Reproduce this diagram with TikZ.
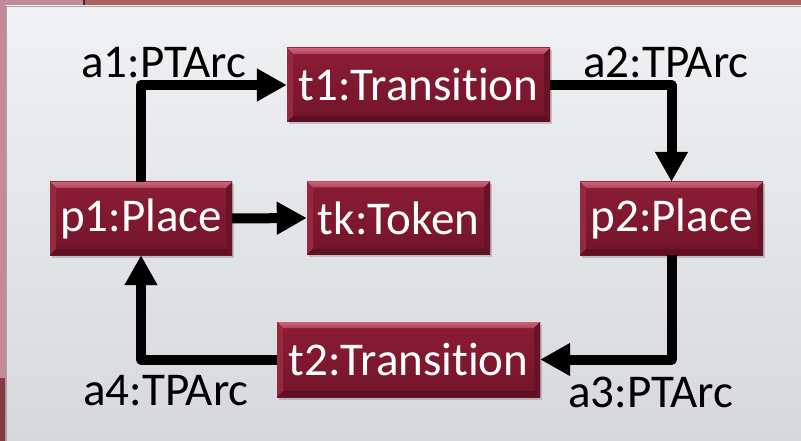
\documentclass[tikz,border=0pt]{standalone}
\usepackage{fontspec}
\setmainfont{Carlito}[RawFeature={-liga}]
\usetikzlibrary{arrows.meta,shadows}

\definecolor{stripTop}{HTML}{A7625F}
\definecolor{stripLeft}{HTML}{C38A99}
\definecolor{panelTop}{HTML}{F0F1F3}
\definecolor{panelBot}{HTML}{D6D8DC}
\definecolor{faceTop}{HTML}{8C1D35}
\definecolor{faceBot}{HTML}{72142A}
\definecolor{bevelTop}{HTML}{C24A64}
\definecolor{bevelLeft}{HTML}{962840}
\definecolor{bevelRight}{HTML}{6A1228}
\definecolor{bevelBot}{HTML}{5E1022}

\tikzset{
  x=1pt, y=-1pt,
  bigfont/.style={font=\fontsize{47}{52}\selectfont},
  classbox/.style={
    bigfont, text=white, inner sep=0pt, draw=none,
    drop shadow={shadow xshift=1.5pt, shadow yshift=-2.5pt, opacity=0.25, fill=black!70},
    path picture={
      \def\bv{6pt}
      \coordinate (nw) at (path picture bounding box.north west);
      \coordinate (ne) at (path picture bounding box.north east);
      \coordinate (sw) at (path picture bounding box.south west);
      \coordinate (se) at (path picture bounding box.south east);
      \shade[top color=faceTop, bottom color=faceBot] (nw) rectangle (se);
      \shade[top color=bevelTop!85!white, bottom color=bevelTop!90!black]
        (nw) -- (ne) -- ([xshift=-\bv,yshift=-\bv]ne) -- ([xshift=\bv,yshift=-\bv]nw) -- cycle;
      \fill[bevelLeft] (nw) -- ([xshift=\bv,yshift=-\bv]nw) -- ([xshift=\bv,yshift=\bv]sw) -- (sw) -- cycle;
      \fill[bevelRight] (ne) -- ([xshift=-\bv,yshift=-\bv]ne) -- ([xshift=-\bv,yshift=\bv]se) -- (se) -- cycle;
      \fill[bevelBot] (sw) -- ([xshift=\bv,yshift=\bv]sw) -- ([xshift=-\bv,yshift=\bv]se) -- (se) -- cycle;
    }
  },
  arclabel/.style={bigfont, text=black, inner sep=0pt, anchor=base west},
  conn/.style={line width=10pt, draw=black, line join=round,
    -{Triangle[length=30pt, width=31pt]}}
}

\begin{document}
\begin{tikzpicture}
  \useasboundingbox (0,0) rectangle (801,441);

  % slide frame and panel
  \fill[stripLeft] (0,0) rectangle (801,441);
  \fill[stripTop] (85,0) rectangle (801,6);
  \fill[black!60!stripTop] (83,0) rectangle (85,6);
  \fill[stripLeft!70!red!60!black] (0,378) rectangle (5,441);
  \shade[top color=panelTop, bottom color=panelBot] (6,6) rectangle (801,441);
  \draw[gray!70, line width=1pt] (6.5,441) -- (6.5,6.5) -- (801,6.5);

  % classes
  \node[classbox, minimum width=263pt, minimum height=74pt] (t1) at (418.5,85) {t1:Transition};
  \node[classbox, minimum width=182pt, minimum height=73pt] (p1) at (141,218.5) {p1:Place};
  \node[classbox, minimum width=183pt, minimum height=73pt] (tk) at (398.5,218) {tk:Token};
  \node[classbox, minimum width=183pt, minimum height=73pt] (p2) at (671.5,218.5) {p2:Place};
  \node[classbox, minimum width=263pt, minimum height=75pt] (t2) at (408.5,359.5) {t2:Transition};

  % arcs
  \draw[conn] (p1.north) |- (t1.west);
  \draw[conn] (t1.east) -| (p2.north);
  \draw[conn] (p2.south) |- (t2.east);
  \draw[conn] (t2.west) -| (p1.south);
  \draw[conn] (p1.east) -- (tk.west);

  % arc labels
  \node[arclabel] (l1) at (81,78) {a1:PTArc};
  \node[arclabel] (l2) at (583,78) {a2:TPArc};
  \node[arclabel] (l3) at (568,407) {a3:PTArc};
  \node[arclabel] (l4) at (83,405) {a4:TPArc};
\end{tikzpicture}
\end{document}
